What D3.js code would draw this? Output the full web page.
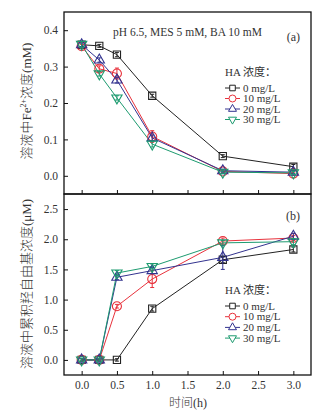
<!DOCTYPE html>
<html>
<head>
<meta charset="utf-8">
<script src="https://cdn.jsdelivr.net/npm/d3@7"></script>
<style>
  body { margin: 0; background: #fff; }
  svg text { font-family: "Liberation Serif", "Noto Sans CJK SC", serif; fill: #333; }
</style>
</head>
<body>
<div id="chart"></div>
<script>
// sampling times (h)
var times = [0, 0.25, 0.5, 1, 2, 3];
var seriesNames = ["0 mg/L", "10 mg/L", "20 mg/L", "30 mg/L"];

// (a) Fe2+ concentration (mM)
var fe0 = [0.360, 0.357, 0.333, 0.220, 0.054, 0.025];
var fe10 = [0.356, 0.294, 0.281, 0.108, 0.012, 0.006];
var fe20 = [0.360, 0.318, 0.263, 0.104, 0.014, 0.010];
var fe30 = [0.361, 0.280, 0.214, 0.087, 0.010, 0.008];
var feErr0 = [0.005, 0.004, 0.006, 0.004, 0.004, 0.006];
var feErr10 = [0.005, 0.008, 0.015, 0.016, 0.004, 0.004];
var feErr20 = [0.005, 0.006, 0.008, 0.008, 0.004, 0.004];
var feErr30 = [0.008, 0.006, 0.006, 0.008, 0.004, 0.004];

// (b) accumulated hydroxyl radical (uM)
var oh0 = [0, 0, 0, 0.85, 1.66, 1.83];
var oh10 = [0, 0, 0.89, 1.34, 1.97, 2.02];
var oh20 = [0, 0, 1.37, 1.48, 1.70, 2.05];
var oh30 = [0, 0, 1.44, 1.55, 1.94, 1.96];
var ohErr0 = [0.02, 0.02, 0.02, 0.04, 0.05, 0.04];
var ohErr10 = [0.02, 0.02, 0.03, 0.14, 0.05, 0.04];
var ohErr20 = [0.02, 0.02, 0.04, 0.05, 0.20, 0.05];
var ohErr30 = [0.02, 0.02, 0.04, 0.04, 0.04, 0.05];

var xTicks = [0, 0.5, 1, 1.5, 2, 2.5, 3];
var feTicks = [0, 0.1, 0.2, 0.3, 0.4];
var ohTicks = [0, 0.5, 1, 1.5, 2, 2.5];

var colors = ["#222222", "#e8323c", "#33338f", "#1d9b70"];
var shapes = [d3.symbolSquare, d3.symbolCircle, d3.symbolTriangle, d3.symbolTriangle];
var rotations = [0, 0, 0, 180];
var sizes = [52, 64, 46, 46];

var W = 318, H = 418;
var left = 64, right = 311;

var svg = d3.select("#chart").append("svg")
  .attr("width", W)
  .attr("height", H);

var x = d3.scaleLinear().domain([-0.25, 3.25]).range([left, right]);

function panel(top, bottom, yDomain, yTicks, data, errs, showXLabels) {
  var y = d3.scaleLinear().domain(yDomain).range([bottom, top]);

  svg.append("g")
    .attr("transform", "translate(" + left + ",0)")
    .call(d3.axisLeft(y).tickValues(yTicks).tickSize(-4).tickPadding(6)
      .tickFormat(d3.format(".1f")))
    .call(function(g) { g.select(".domain").remove(); })
    .call(function(g) {
      g.selectAll("text").style("font-size", "11.5px").attr("fill", "#444");
      g.selectAll("line").attr("stroke", "#111").attr("stroke-width", 1);
    });

  svg.append("g")
    .attr("transform", "translate(0," + bottom + ")")
    .call(d3.axisBottom(x).tickValues(xTicks).tickSize(-4).tickPadding(6)
      .tickFormat(showXLabels ? d3.format(".1f") : ""))
    .call(function(g) { g.select(".domain").remove(); })
    .call(function(g) {
      g.selectAll("text").style("font-size", "11.5px").attr("fill", "#444");
      g.selectAll("line").attr("stroke", "#111").attr("stroke-width", 1);
    });

  svg.append("rect")
    .attr("x", left)
    .attr("y", top)
    .attr("width", right - left)
    .attr("height", bottom - top)
    .attr("fill", "none")
    .attr("stroke", "#111")
    .attr("stroke-width", 1.3);

  var line = d3.line()
    .x(function(d, i) { return x(times[i]); })
    .y(function(d) { return y(d); });

  data.forEach(function(vals, s) {
    svg.append("path")
      .attr("d", line(vals))
      .attr("fill", "none")
      .attr("stroke", colors[s])
      .attr("stroke-width", 1);
  });

  data.forEach(function(vals, s) {
    var g = svg.append("g");
    g.selectAll(".err")
      .data(vals).enter()
      .append("path")
      .attr("d", function(d, i) {
        var cx = x(times[i]), y1 = y(d - errs[s][i]), y2 = y(d + errs[s][i]);
        return "M" + (cx - 2) + "," + y1 + "H" + (cx + 2) +
               "M" + cx + "," + y1 + "V" + y2 +
               "M" + (cx - 2) + "," + y2 + "H" + (cx + 2);
      })
      .attr("fill", "none")
      .attr("stroke", colors[s])
      .attr("stroke-width", 1);

    g.selectAll(".pt")
      .data(vals).enter()
      .append("path")
      .attr("d", d3.symbol().type(shapes[s]).size(sizes[s]))
      .attr("transform", function(d, i) {
        return "translate(" + x(times[i]) + "," + y(d) + ") rotate(" + rotations[s] + ")";
      })
      .attr("fill", "none")
      .attr("stroke", colors[s])
      .attr("stroke-width", 1.1);
  });

  return y;
}

function legend(lx, ty, y0, step) {
  svg.append("text")
    .attr("x", lx)
    .attr("y", ty)
    .style("font-size", "11px")
    .text("HA 浓度：");

  seriesNames.forEach(function(name, s) {
    var cy = y0 + s * step;
    svg.append("line")
      .attr("x1", lx)
      .attr("x2", lx + 15)
      .attr("y1", cy)
      .attr("y2", cy)
      .attr("stroke", colors[s])
      .attr("stroke-width", 1);
    svg.append("path")
      .attr("d", d3.symbol().type(shapes[s]).size(sizes[s] * 0.6))
      .attr("transform", "translate(" + (lx + 7.5) + "," + cy + ") rotate(" + rotations[s] + ")")
      .attr("fill", "#fff")
      .attr("stroke", colors[s])
      .attr("stroke-width", 1);
    svg.append("text")
      .attr("x", lx + 18)
      .attr("y", cy)
      .attr("dy", "0.34em")
      .style("font-size", "11px")
      .text(name);
  });
}

// panel (a)
panel(12, 194, [-0.05, 0.45], feTicks, [fe0, fe10, fe20, fe30],
  [feErr0, feErr10, feErr20, feErr30], false);
// panel (b)
panel(194, 375, [-0.25, 2.75], ohTicks, [oh0, oh10, oh20, oh30],
  [ohErr0, ohErr10, ohErr20, ohErr30], true);

svg.append("text")
  .attr("x", 113)
  .attr("y", 36)
  .style("font-size", "11.5px")
  .text("pH 6.5, MES 5 mM, BA 10 mM");

svg.append("text")
  .attr("x", 300)
  .attr("y", 41)
  .attr("text-anchor", "end")
  .style("font-size", "12px")
  .text("(a)");

svg.append("text")
  .attr("x", 300)
  .attr("y", 220)
  .attr("text-anchor", "end")
  .style("font-size", "12px")
  .text("(b)");

legend(225, 76, 88, 10.5);
legend(225, 294, 306, 10.7);

// axis titles
var t1 = svg.append("text")
  .attr("transform", "translate(31,101) rotate(-90)")
  .attr("text-anchor", "middle")
  .style("font-size", "13px")
  .style("font-weight", 300)
  .attr("fill", "#555");
t1.append("tspan").text("溶液中Fe");
t1.append("tspan").attr("dy", "-5").style("font-size", "8px").text("2+");
t1.append("tspan").attr("dy", "5").text("浓度(mM)");

svg.append("text")
  .attr("transform", "translate(31,284) rotate(-90)")
  .attr("text-anchor", "middle")
  .style("font-size", "13px")
  .style("font-weight", 300)
  .attr("fill", "#555")
  .text("溶液中累积羟自由基浓度(μM)");

svg.append("text")
  .attr("x", 188)
  .attr("y", 407)
  .attr("text-anchor", "middle")
  .style("font-size", "12px")
  .style("font-weight", 300)
  .attr("fill", "#555")
  .text("时间(h)");
</script>
</body>
</html>
